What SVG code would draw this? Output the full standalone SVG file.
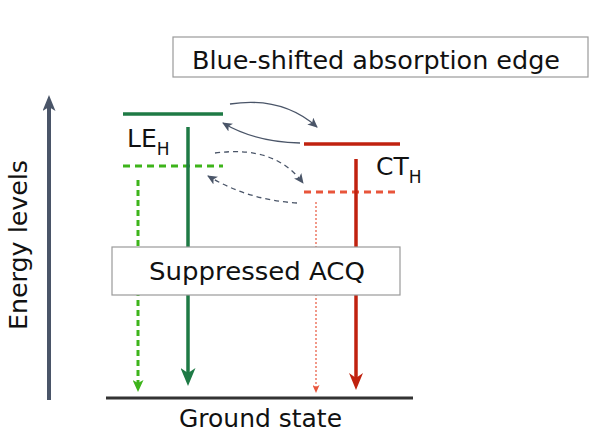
<svg xmlns="http://www.w3.org/2000/svg" width="590" height="436" viewBox="0 0 590 436">
<defs>
<style>
text{font-family:"DejaVu Sans","Liberation Sans",sans-serif;fill:#111}
.box{fill:#fff;stroke:#9a9a9a;stroke-width:1.2}
.lbl{font-size:24px}
.big{font-size:25px}
.sub{font-size:17px}
.curve{fill:none;stroke:#4a5568;stroke-width:1.3}
.dcurve{fill:none;stroke:#4a5568;stroke-width:1.3;stroke-dasharray:5 4}
</style>
<marker id="ahGray" viewBox="0 0 10 9" refX="9" refY="4.5" markerWidth="10" markerHeight="9" markerUnits="userSpaceOnUse" orient="auto"><path d="M0,0 L10,4.5 L0,9 L2.5,4.5 z" fill="#4a5568"/></marker>
<marker id="ahAxis" viewBox="0 0 16 13" refX="6" refY="6.5" markerWidth="16" markerHeight="13" markerUnits="userSpaceOnUse" orient="auto"><path d="M0,0 L16,6.5 L0,13 L4,6.5 z" fill="#4a5568"/></marker>
<marker id="ahDG" viewBox="0 0 18 15" refX="8" refY="7.5" markerWidth="18" markerHeight="15" markerUnits="userSpaceOnUse" orient="auto"><path d="M0,0 L18,7.5 L0,15 L5,7.5 z" fill="#1e7a45"/></marker>
<marker id="ahLG" viewBox="0 0 12 11" refX="4" refY="5.5" markerWidth="12" markerHeight="11" markerUnits="userSpaceOnUse" orient="auto"><path d="M0,0 L12,5.5 L0,11 L3,5.5 z" fill="#3db41a"/></marker>
<marker id="ahR" viewBox="0 0 17 14" refX="7" refY="7" markerWidth="17" markerHeight="14" markerUnits="userSpaceOnUse" orient="auto"><path d="M0,0 L17,7 L0,14 L5,7 z" fill="#c0220f"/></marker>
<marker id="ahO" viewBox="0 0 8 7" refX="2" refY="3.5" markerWidth="8" markerHeight="7" markerUnits="userSpaceOnUse" orient="auto"><path d="M0,0 L8,3.5 L0,7 L2,3.5 z" fill="#e8553b"/></marker>
</defs>
<rect width="590" height="436" fill="#fff"/>

<g id="axis">
<line x1="49" y1="400" x2="49" y2="105" stroke="#4a5568" stroke-width="4" marker-end="url(#ahAxis)"/>
<text class="lbl" transform="translate(27,245) rotate(-90)" text-anchor="middle" textLength="170" lengthAdjust="spacingAndGlyphs">Energy levels</text>
</g>

<g id="ground">
<line x1="106" y1="398" x2="413" y2="398" stroke="#333" stroke-width="3"/>
<text class="lbl" x="179" y="427" textLength="163" lengthAdjust="spacingAndGlyphs">Ground state</text>
</g>

<g id="LEH">
<line x1="123" y1="114" x2="223" y2="114" stroke="#1e7a45" stroke-width="3.5"/>
<line x1="123" y1="166" x2="223" y2="166" stroke="#3db41a" stroke-width="3" stroke-dasharray="7 5"/>
<text class="big" x="127" y="147">LE<tspan class="sub" dy="8">H</tspan></text>
</g>

<g id="CTH">
<line x1="304" y1="144" x2="400" y2="144" stroke="#c0220f" stroke-width="3.5"/>
<line x1="304" y1="192" x2="400" y2="192" stroke="#e8553b" stroke-width="3" stroke-dasharray="7 5"/>
<text class="big" x="376" y="175">CT<tspan class="sub" dy="8">H</tspan></text>
</g>

<g id="connectors">
<line x1="188" y1="127" x2="188" y2="376" stroke="#1e7a45" stroke-width="3.5" marker-end="url(#ahDG)"/>
<line x1="138" y1="180" x2="138" y2="384" stroke="#3db41a" stroke-width="3" stroke-dasharray="6 4" marker-end="url(#ahLG)"/>
<line x1="356" y1="159" x2="356" y2="380" stroke="#c0220f" stroke-width="3.5" marker-end="url(#ahR)"/>
<line x1="316" y1="202" x2="316" y2="387" stroke="#e8553b" stroke-width="1.2" stroke-dasharray="2 2" marker-end="url(#ahO)"/>
<path class="curve" d="M230,104 Q282,96 317,127" marker-end="url(#ahGray)"/>
<path class="curve" d="M300,143 Q255,142 223,123" marker-end="url(#ahGray)"/>
<path class="dcurve" d="M215,153 Q275,145 303,183" marker-end="url(#ahGray)"/>
<path class="dcurve" d="M297,203 Q248,200 208,176" marker-end="url(#ahGray)"/>
</g>

<g id="blueshift">
<rect class="box" x="173" y="37" width="415" height="40"/>
<text class="lbl" x="192" y="69" textLength="368" lengthAdjust="spacingAndGlyphs">Blue-shifted absorption edge</text>
</g>

<g id="acq">
<rect class="box" x="112" y="247" width="288" height="48"/>
<text class="lbl" x="149" y="280" textLength="216" lengthAdjust="spacingAndGlyphs">Suppressed ACQ</text>
</g>
</svg>
